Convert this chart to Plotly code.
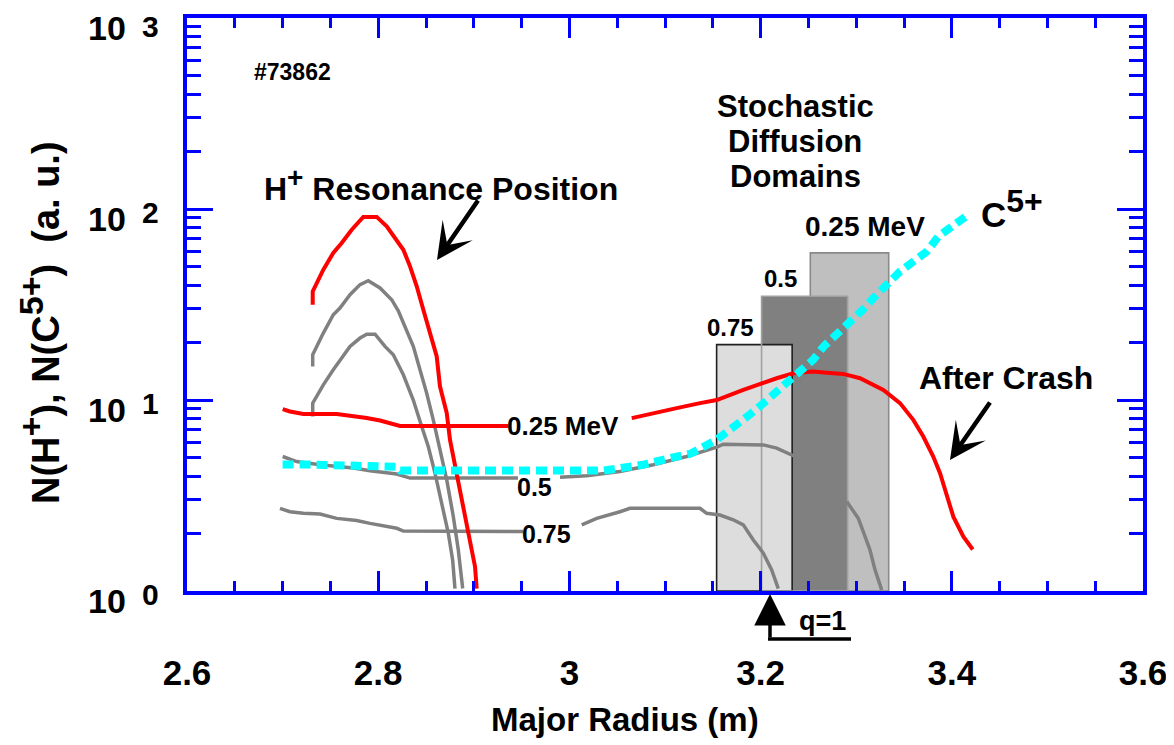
import plotly.graph_objects as go

# ---------------- data ----------------
# H+ resonance profiles (before crash)
res_red_x = [2.7315, 2.7315, 2.7426, 2.753, 2.7618, 2.7723, 2.7844, 2.7984, 2.8089, 2.8176, 2.8263, 2.8333,
             2.8403, 2.8472, 2.8542, 2.8612, 2.8646, 2.8717, 2.8751, 2.8821, 2.889, 2.896, 2.9013, 2.903]
res_red_y = [31.5, 37.0, 48.1, 58.9, 66.4, 77.9, 90.9, 90.9, 81.1, 70.6, 61.2, 50.1,
             39.4, 29.7, 22.4, 16.9, 11.8, 8.54, 6.18, 4.14, 2.77, 1.85, 1.34, 1.03]
res_gray1_x = [2.7315, 2.7315, 2.7426, 2.753, 2.76, 2.7705, 2.781, 2.7896, 2.8019, 2.8141, 2.821, 2.828,
               2.8367, 2.8437, 2.8507, 2.8576, 2.8646, 2.8717, 2.8786, 2.8838, 2.8884]
res_gray1_y = [14.98, 17.26, 22.4, 27.96, 30.3, 35.6, 40.2, 42.1, 38.6, 33.5, 29.3, 24.3,
               19.1, 14.4, 10.87, 7.87, 5.48, 3.82, 2.45, 1.64, 1.03]
res_gray2_x = [2.7315, 2.7315, 2.7426, 2.753, 2.7705, 2.781, 2.788, 2.7967, 2.8071, 2.8158, 2.8263,
               2.8367, 2.8455, 2.8524, 2.8594, 2.8664, 2.8733, 2.8779, 2.8803]
res_gray2_y = [8.19, 9.63, 12.0, 14.4, 19.07, 21.1, 22.1, 22.1, 19.07, 17.26, 13.56,
               10.0, 7.26, 5.71, 4.14, 2.88, 2.01, 1.45, 1.03]

# After-crash profiles (None = gap where a label sits / hidden by the box)
p025_x = [2.7001, 2.7077, 2.7217, 2.7566, 2.788, 2.8019, 2.8228, 2.9274, 2.9358, None,
          3.0652, 3.0913, 3.1122, 3.1366, 3.1541, 3.1819, 3.2028, 3.2168, 3.2342, 3.2551, 3.2691,
          3.2865, 3.304, 3.3284, 3.3458, 3.3597, 3.3702, 3.3806, 3.3877, 3.3947, 3.4016, 3.412, 3.4219]
p025_y = [8.96, 8.71, 8.44, 8.44, 8.04, 7.81, 7.32, 7.32, 7.32, None,
          8.04, 8.54, 9.07, 9.63, 10.0, 11.3, 12.35, 13.0, 13.8, 14.1, 13.9,
          13.7, 13.0, 11.3, 9.63, 7.87, 6.44, 5.06, 4.14, 3.12, 2.45, 1.93, 1.65]
p05_x = [2.7001, 2.7147, 2.7391, 2.774, 2.7914, 2.8194, 2.8333, 2.9462, None,
         2.9902, 3.0181, 3.0529, 3.0878, 3.1227, 3.1541, 3.161, 3.1889, 3.2028, 3.2168, 3.236, None,
         3.2901, 3.3022, 3.3092, 3.3144, 3.3197, 3.3267]
p05_y = [5.06, 4.76, 4.58, 4.40, 4.26, 4.10, 3.90, 3.90, None,
         3.94, 4.01, 4.22, 4.58, 5.06, 5.66, 5.87, 5.87, 5.82, 5.60, 5.06, None,
         2.94, 2.40, 1.93, 1.64, 1.29, 1.01]
p075_x = [2.6973, 2.7077, 2.7217, 2.7391, 2.7566, 2.7775, 2.7914, 2.8194, 2.8263, 2.9518, None,
          3.0129, 3.0286, 3.0529, 3.0634, 3.1366, 3.1436, 3.1575, 3.1714, 3.1819, 3.1924, 3.2028,
          3.2116, 3.2185]
p075_y = [2.71, 2.60, 2.55, 2.53, 2.40, 2.34, 2.26, 2.13, 2.06, 2.05, None,
          2.22, 2.40, 2.60, 2.71, 2.71, 2.55, 2.50, 2.36, 2.22, 1.85, 1.58,
          1.29, 1.03]

# C5+ profile
c5_x = [2.700, 2.730, 2.819, 2.823, 3.036, 3.053, 3.077, 3.105, 3.126, 3.154, 3.171, 3.186, 3.199,
        3.213, 3.227, 3.241, 3.255, 3.266, 3.280, 3.290, 3.307, 3.318, 3.332, 3.346, 3.360, 3.374,
        3.386, 3.398, 3.414]
c5_y = [4.59, 4.59, 4.47, 4.27, 4.27, 4.40, 4.58, 4.96, 5.22, 6.19, 7.12, 8.19, 9.25,
        10.65, 12.27, 14.1, 16.24, 19.07, 21.96, 24.8, 29.7, 34.2, 40.2, 47.2, 53.2, 60.0,
        71.9, 79.6, 90.9]

# Stochastic diffusion domains
dom_labels = ["0.25 MeV", "0.5", "0.75"]
dom_x0 = [3.252, 3.201, 3.154]
dom_x1 = [3.334, 3.291, 3.233]
dom_top = [58.9, 34.9, 19.5]

x_tick_vals = [2.6, 2.8, 3.0, 3.2, 3.4, 3.6]
x_tick_text = ["2.6", "2.8", "3", "3.2", "3.4", "3.6"]
y_tick_exps = [0, 1, 2, 3]

# ---------------- styles ----------------
FONT = "Arial, Liberation Sans, sans-serif"
BLUE = "#0000ff"
RED = "#ff0000"
GRAY = "#808080"
CYAN = "#00ffff"
dom_fill = {"0.25 MeV": "#bfbfbf", "0.5": "#808080", "0.75": "#dddddd"}
dom_line = {"0.25 MeV": "#8a8a8a", "0.5": "#a0a0a0", "0.75": "#202020"}

fig = go.Figure()


def box_trace(i, fill=True, line=True):
    x0, x1, top = dom_x0[i], dom_x1[i], dom_top[i]
    lab = dom_labels[i]
    return go.Scatter(
        x=[x0, x0, x1, x1, x0], y=[1, top, top, 1, 1],
        mode="lines", fill="toself" if fill else None,
        fillcolor=dom_fill[lab] if fill else None,
        line=dict(color=dom_line[lab] if line else "rgba(0,0,0,0)", width=1.6),
        hoverinfo="skip", showlegend=False)


fig.add_trace(box_trace(0))                       # 0.25 MeV
fig.add_trace(box_trace(1, line=False))           # 0.5 fill
fig.add_trace(box_trace(2))                       # 0.75
fig.add_trace(box_trace(1, fill=False))           # 0.5 outline

for xs, ys in [(res_gray1_x, res_gray1_y), (res_gray2_x, res_gray2_y), (p05_x, p05_y), (p075_x, p075_y)]:
    fig.add_trace(go.Scatter(x=xs, y=ys, mode="lines", line=dict(color=GRAY, width=3.5),
                             connectgaps=False, showlegend=False, hoverinfo="skip"))
for xs, ys in [(res_red_x, res_red_y), (p025_x, p025_y)]:
    fig.add_trace(go.Scatter(x=xs, y=ys, mode="lines", line=dict(color=RED, width=4),
                             connectgaps=False, showlegend=False, hoverinfo="skip"))
fig.add_trace(go.Scatter(x=c5_x, y=c5_y, mode="lines",
                         line=dict(color=CYAN, width=8, dash="11px,6px"),
                         showlegend=False, hoverinfo="skip"))

axis_common = dict(showline=True, linecolor=BLUE, linewidth=3.5, mirror="allticks",
                   ticks="inside", tickcolor=BLUE, tickwidth=3, showgrid=False, zeroline=False,
                   automargin=False)

fig.update_xaxes(range=[2.6, 3.6], tickvals=x_tick_vals, ticktext=x_tick_text, ticklen=20,
                 tickfont=dict(family=FONT, size=35, color="black", weight="bold"),
                 ticklabelstandoff=48,
                 minor=dict(ticks="inside", dtick=0.05, tick0=2.6, ticklen=10, tickwidth=3,
                            tickcolor=BLUE, showgrid=False),
                 **axis_common)
fig.update_yaxes(type="log", range=[0, 3], dtick=1, ticklen=26, showticklabels=False,
                 minor=dict(ticks="inside", dtick="D1", ticklen=14, tickwidth=3,
                            tickcolor=BLUE, showgrid=False),
                 **axis_common)

# target plot-area edges in the photographed page (page body has an 8px margin)
OFF = 8
PL, PR, PT, PB = 187, 1143, 18, 591
W, H = 1174 - OFF, 745 - OFF
fig.update_layout(width=W, height=H,
                  margin=dict(l=PL - OFF, r=W - (PR - OFF), t=PT - OFF, b=H - (PB - OFF),
                              pad=0, autoexpand=False),
                  plot_bgcolor="white", paper_bgcolor="white",
                  font=dict(family=FONT, color="black", weight="bold"))

pw = PR - PL
ph = PB - PT


def xp(px):
    return (px - PL) / pw


def yp(py):
    return (PB - py) / ph


def px2x(px):
    return 2.6 + (px - PL) / pw


def py2ly(py):
    return (PB - py) / (ph / 3.0)


# y tick labels "10^k"
for k in y_tick_exps:
    fig.add_annotation(text="10", xref="paper", x=xp(128), xanchor="right",
                       yref="y", y=k, yanchor="middle", yshift=-10, showarrow=False,
                       font=dict(size=34, family=FONT, weight="bold"))
    fig.add_annotation(text=str(k), xref="paper", x=xp(140), xanchor="left",
                       yref="y", y=k, yanchor="middle", yshift=(-8 if k == 3 else -3),
                       showarrow=False, font=dict(size=30, family=FONT, weight="bold"))

SUP = "<sup><span style='font-size:{s}px'>{t}</span></sup>"

# axis titles
fig.add_annotation(text="Major Radius (m)", xref="paper", x=xp(625), xanchor="center",
                   yref="paper", y=yp(719), yanchor="middle", showarrow=False,
                   font=dict(size=33, family=FONT, weight="bold"))
fig.add_annotation(text="N(H" + SUP.format(s=34, t="+") + "), N(C" + SUP.format(s=34, t="5+")
                   + ")  (a. u.)", textangle=-90,
                   xref="paper", x=xp(39), xanchor="center",
                   yref="paper", y=yp(323), yanchor="middle", showarrow=False,
                   font=dict(size=38, family=FONT, weight="bold"))


def lab(text, px, py, size, **kw):
    fig.add_annotation(text=text, x=px2x(px), y=py2ly(py), xanchor="center", yanchor="middle",
                       showarrow=False, font=dict(size=size, family=FONT, weight="bold"), **kw)


lab("#73862", 292, 72, 23)
lab("H" + SUP.format(s=28, t="+") + " Resonance Position", 441, 184, 32)
lab("Stochastic", 795, 106, 31)
lab("Diffusion", 795, 141, 31)
lab("Domains", 795, 176, 31)
lab(dom_labels[0], 865, 226, 28)
lab(dom_labels[1], 780, 278, 24)
lab(dom_labels[2], 730, 327, 24)
lab("C" + SUP.format(s=32, t="5+"), 1012, 208, 35)
lab("After Crash", 1006, 378, 32)
lab("0.25 MeV", 563, 426, 26)
lab("0.5", 534, 487, 25)
lab("0.75", 546, 534, 25)

# arrows
fig.add_annotation(text="", x=px2x(437), y=py2ly(260), ax=42, ay=-61, showarrow=True,
                   arrowhead=3, arrowwidth=4.5, arrowsize=1.35, arrowcolor="black")
fig.add_annotation(text="", x=px2x(950), y=py2ly(460), ax=41, ay=-59, showarrow=True,
                   arrowhead=3, arrowwidth=4.5, arrowsize=1.35, arrowcolor="black")

# q=1 marker below the axis
fig.add_annotation(text="q=1", x=px2x(822), xanchor="center", yref="paper",
                   y=yp(621), yanchor="middle", showarrow=False,
                   font=dict(size=27, family=FONT, weight="bold"))
fig.add_annotation(text="", x=px2x(770), yref="paper", y=yp(594),
                   ax=0, ay=45, showarrow=True, arrowhead=2, arrowwidth=3.5, arrowsize=1.8,
                   arrowcolor="black")
fig.add_shape(type="line", xref="x", yref="paper", x0=px2x(768), x1=px2x(851),
              y0=yp(639), y1=yp(639), line=dict(color="black", width=3.5))

fig.write_html("out.html")
